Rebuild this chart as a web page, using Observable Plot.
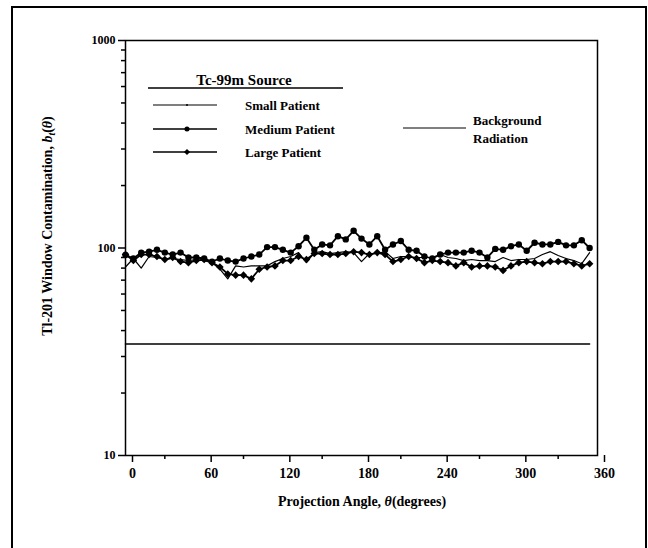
<!DOCTYPE html>
<html><head><meta charset="utf-8">
<script src="https://cdn.jsdelivr.net/npm/d3@7"></script>
<script src="https://cdn.jsdelivr.net/npm/@observablehq/plot@0.6"></script>
<style>
body{margin:0;background:#fff;}
#chart{width:648px;height:548px;overflow:hidden;}
</style>
</head><body><div id="chart"></div>
<script>
// Projection angles (degrees)
const angles = [0,6,12,18,24,30,36,42,48,54,60,66,72,78,84,90,96,102,108,114,120,126,132,138,144,150,156,162,168,174,180,186,192,198,204,210,216,222,228,234,240,246,252,258,264,270,276,282,288,294,300,306,312,318,324,330,336,342,348,354];
// Tl-201 window contamination b_t(theta), Tc-99m source
const smallPatient = [81,89,80,91,90,88,89,88,87,88, 87,85,79,71,82,81,82,82,82,86, 89,91,95,85,95,96,94,95,96,95, 86,94,94,96,89,91,91,90,90,90, 93,90,89,87,88,87,87,86,90,87, 88,88,89,93,96,92,89,87,84,95];
const mediumPatient = [92.6,89,95,96,98,95,93,95,90,90, 89,86,89,87,86,89,91,93,101,101, 98,95,102,112,98,104,103,114,110,121, 111,104,114,98,104,108,98,97,91,89, 93,95,95,95,97,95,90,99,98,102, 104,97,106,104,104,107,103,103,109,100];
const largePatient = [93,87,93,93,91,88,90,86,85,87, 88,85,81,75,74,74,71,79,81,82, 87,87,91,88,94,94,93,93,94,96, 95,93,95,93,86,88,91,89,85,87, 86,85,82,85,81,82,82,81,78,82, 85,86,85,84,86,86,86,84,82,84];
// Background radiation level
const backgroundAngles = [0, 354];
const backgroundLevel = 34.5;

// Tick values
const xTicks = [0,60,120,180,240,300,360];
const xMinorTicks = [30,90,150,210,270,330];
const yTicks = [10,100,1000];
const yMinorTicks = [20,30,40,50,60,70,80,90,200,300,400,500,600,700,800,900];

const toRows = vals => angles.map((a, i) => ({angle: a, value: vals[i]}));
const small = toRows(smallPatient);
const medium = toRows(mediumPatient);
const large = toRows(largePatient);
const background = backgroundAngles.map(a => ({angle: a, value: backgroundLevel}));

const FONT = "'Liberation Serif', 'Times New Roman', serif";

const plot = Plot.plot({
  width: 648, height: 548,
  marginTop: 40, marginBottom: 93, marginLeft: 125, marginRight: 51,
  style: {fontFamily: FONT, fontWeight: "bold", background: "#fff", color: "#000", overflow: "visible"},
  x: {domain: [0, 360]},
  y: {type: "log", domain: [10, 1000]},
  marks: [
    Plot.frame({stroke: "#000", strokeWidth: 1.5}),
    Plot.axisX({ticks: xTicks, tickSize: 7, tickPadding: 6, fontSize: 14, dx: 7, label: null, strokeWidth: 1.5}),
    Plot.axisX({ticks: xMinorTicks, tickSize: 4, tickFormat: () => "", label: null, strokeWidth: 1.5}),
    Plot.axisY({ticks: yTicks, tickSize: 7, tickPadding: 3, fontSize: 12, label: null, tickFormat: d => String(d), strokeWidth: 1.5}),
    Plot.axisY({ticks: yMinorTicks, tickSize: 4, tickFormat: () => "", label: null, strokeWidth: 1.5}),
    Plot.line(background, {x: "angle", y: "value", stroke: "#000", strokeWidth: 1.5}),
    Plot.line(small, {x: "angle", y: "value", stroke: "#000", strokeWidth: 1.2}),
    Plot.line(medium, {x: "angle", y: "value", stroke: "#000", strokeWidth: 1.8}),
    Plot.dot(medium, {x: "angle", y: "value", r: 3.2, fill: "#000", symbol: "circle"}),
    Plot.line(large, {x: "angle", y: "value", stroke: "#000", strokeWidth: 1.8}),
    Plot.dot(large, {x: "angle", y: "value", r: 3.4, fill: "#000", symbol: "diamond2"})
  ]
});
document.getElementById("chart").appendChild(plot);

// Decorations: outer border, axis titles, legend
const svg = d3.select(plot);
svg.append("rect").attr("x", 12).attr("y", 7).attr("width", 634).attr("height", 560)
  .attr("fill", "none").attr("stroke", "#000").attr("stroke-width", 2);

const yTitle = svg.append("text")
  .attr("transform", "translate(52,226) rotate(-90)")
  .attr("text-anchor", "middle").attr("font-size", 14).attr("font-weight", "bold")
  .attr("font-family", FONT).attr("fill", "#000");
yTitle.append("tspan").text("Tl-201 Window Contamination, ");
yTitle.append("tspan").attr("font-style", "italic").text("b");
yTitle.append("tspan").attr("font-style", "italic").attr("font-size", 10).attr("dy", 3).text("t");
yTitle.append("tspan").attr("dy", -3).text("(");
yTitle.append("tspan").attr("font-style", "italic").text("θ");
yTitle.append("tspan").text(")");

const xTitle = svg.append("text")
  .attr("x", 362).attr("y", 506)
  .attr("text-anchor", "middle").attr("font-size", 14).attr("font-weight", "bold")
  .attr("font-family", FONT).attr("fill", "#000");
xTitle.append("tspan").text("Projection Angle, ");
xTitle.append("tspan").attr("font-style", "italic").text("θ");
xTitle.append("tspan").text("(degrees)");

const lg = svg.append("g").attr("font-family", FONT).attr("font-weight", "bold")
  .attr("fill", "#000").attr("text-anchor", "start");
lg.append("text").attr("x", 244).attr("y", 85).attr("text-anchor", "middle").attr("font-size", 15).text("Tc-99m Source");
lg.append("line").attr("x1", 148).attr("x2", 343).attr("y1", 88).attr("y2", 88).attr("stroke", "#000").attr("stroke-width", 1.5);
const entries = [
  {label: "Small Patient", y: 105, symbol: null},
  {label: "Medium Patient", y: 129, symbol: d3.symbolCircle},
  {label: "Large Patient", y: 152, symbol: d3.symbolDiamond2}
];
for (const e of entries) {
  lg.append("line").attr("x1", 153).attr("x2", 217).attr("y1", e.y).attr("y2", e.y)
    .attr("stroke", "#000").attr("stroke-width", e.symbol ? 1.6 : 1.2);
  if (e.symbol) {
    lg.append("path").attr("transform", `translate(187,${e.y})`)
      .attr("d", d3.symbol(e.symbol, e.symbol === d3.symbolCircle ? 20 : 24)());
  } else {
    lg.append("circle").attr("cx", 187).attr("cy", e.y).attr("r", 1);
  }
  lg.append("text").attr("x", 245).attr("y", e.y + 4.5).attr("font-size", 13).text(e.label);
}
lg.append("line").attr("x1", 403).attr("x2", 466).attr("y1", 128).attr("y2", 128)
  .attr("stroke", "#000").attr("stroke-width", 1);
lg.append("text").attr("x", 473).attr("y", 125).attr("font-size", 13).text("Background");
lg.append("text").attr("x", 473).attr("y", 143).attr("font-size", 13).text("Radiation");
</script>
</body></html>
